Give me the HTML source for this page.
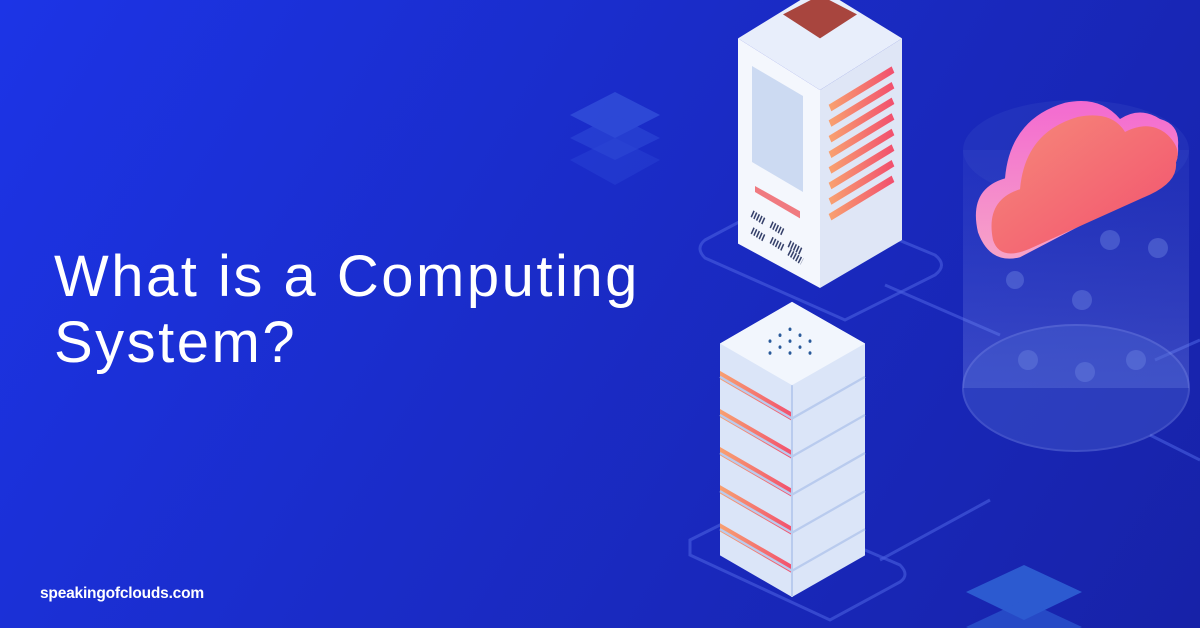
<!DOCTYPE html>
<html><head><style>
body{margin:0;width:1200px;height:628px;overflow:hidden;background:linear-gradient(120deg,#1c34e6 0%,#1a2cc8 45%,#1722a8 100%);font-family:"Liberation Sans",sans-serif;position:relative}
h1{position:absolute;left:54px;top:244px;margin:0;color:#fff;font-weight:400;font-size:58px;line-height:66px;letter-spacing:2.5px}
.u{position:absolute;left:40px;top:585px;color:#fff;font-weight:700;font-size:15.5px;letter-spacing:-0.2px}
svg{position:absolute;left:0;top:0}
</style></head><body>
<svg width="1200" height="628">
<defs>
<linearGradient id="cl" x1="0" y1="0" x2="1" y2="1"><stop offset="0" stop-color="#f68a7a"/><stop offset="1" stop-color="#f2506e"/></linearGradient>
<linearGradient id="cs" x1="0" y1="0" x2="0" y2="1"><stop offset="0" stop-color="#f36ad0"/><stop offset="1" stop-color="#f6a3c8"/></linearGradient>
<linearGradient id="st" x1="0" y1="0" x2="1" y2="0"><stop offset="0" stop-color="#f8a070"/><stop offset="1" stop-color="#f2506e"/></linearGradient>
<linearGradient id="cy" x1="0" y1="0" x2="0" y2="1"><stop offset="0" stop-color="#5a6fd8" stop-opacity="0.12"/><stop offset="1" stop-color="#8a9cf0" stop-opacity="0.3"/></linearGradient>
</defs>
<g fill="none" stroke="#4a5fe0" stroke-opacity="0.6" stroke-width="3">
<path d="M705 240 L790 195 L935 255 Q948 265 935 275 L845 320 L705 258 Q695 248 705 240Z"/>
<path d="M885 285 L1000 335 M880 560 L990 500 M1155 360 L1200 340 M1150 435 L1200 460"/>
<path d="M690 540 L760 505 L900 565 Q910 575 900 582 L830 620 L690 555 Z"/>
</g>
<g fill="#3a5be0" opacity="0.6"><path d="M615 92 L660 115 L615 138 L570 115Z"/><path d="M615 115 L660 138 L615 160 L570 138Z" opacity="0.6"/><path d="M615 138 L660 160 L615 185 L570 160Z" opacity="0.4"/></g>
<g fill="#2c5ad0"><path d="M1024 565 L1082 592 L1024 620 L966 592Z"/><path d="M1024 600 L1082 627 L1024 655 L966 627Z" opacity="0.7"/></g>
<rect x="963" y="150" width="226" height="238" fill="url(#cy)"/>
<ellipse cx="1076" cy="150" rx="113" ry="50" fill="#3a4fc8" opacity="0.25"/>
<ellipse cx="1076" cy="388" rx="113" ry="63" fill="#4a63d0" opacity="0.4" stroke="#7b8ee8" stroke-width="2"/>
<g fill="#6a80e0" opacity="0.45"><circle cx="1110" cy="240" r="10"/><circle cx="1158" cy="248" r="10"/><circle cx="1015" cy="280" r="9"/><circle cx="1082" cy="300" r="10"/><circle cx="1028" cy="360" r="10"/><circle cx="1136" cy="360" r="10"/><circle cx="1085" cy="372" r="10"/></g>
<g transform="matrix(1,0,0,1.08,0,11)">
<path d="M978 205 Q968 165 1005 155 Q1010 100 1065 85 Q1100 78 1120 100 Q1140 88 1160 100 Q1180 105 1178 125 Q1180 150 1150 165 L1020 228 Q990 235 978 205Z" fill="url(#cs)"/>
<path d="M993 212 Q985 175 1020 165 Q1025 112 1078 98 Q1112 92 1125 112 Q1150 100 1168 115 Q1182 128 1176 140 Q1178 158 1150 170 L1030 220 Q1000 232 993 212Z" fill="url(#cl)"/>
</g>
<g transform="matrix(1,0,0,1.2,0,0)">
<path d="M738 32 L820 -10 L902 32 L820 75Z" fill="#e8eefb"/>
<path d="M783 12 L820 -4 L857 12 L820 32Z" fill="#a8453e"/>
<path d="M738 32 L820 75 L820 240 L738 203Z" fill="#f4f7fd"/>
<path d="M820 75 L902 32 L902 200 L820 240Z" fill="#dfe6f6"/>
<path d="M752 55 L803 80 L803 160 L752 135Z" fill="#ccdaf2"/>
<path d="M755 155 L800 176 L800 182 L755 160Z" fill="#f07a80"/>
<g stroke="#35406a" stroke-width="6" stroke-dasharray="1.5 1.5"><path d="M752 178 L765 185 M771 187 L784 194 M752 192 L765 199 M771 200 L784 207 M789 203 L802 210 M789 210 L802 218"/></g>
<g stroke="url(#st)" stroke-width="6"><path d="M830 90 L893 58 M830 103 L893 71 M830 116 L893 84 M830 129 L893 97 M830 142 L893 110 M830 155 L893 123 M830 168 L893 136 M830 181 L893 149"/></g>
</g>
<g transform="matrix(1,0,0,1.19,0,2)">
<path d="M720 287 L792 252 L865 287 L865 465 L792 500 L720 465Z" fill="#dbe5f8"/>
<g fill="url(#st)">
<path d="M720 310 L792 345 L792 352 L720 317Z"/><path d="M720 342 L792 377 L792 384 L720 349Z"/><path d="M720 374 L792 409 L792 416 L720 381Z"/><path d="M720 406 L792 441 L792 448 L720 413Z"/><path d="M720 438 L792 473 L792 480 L720 445Z"/>
</g>
<g stroke="#b9cbee" stroke-width="2" fill="none"><path d="M792 322 L792 500 M720 315 L792 350 L865 315 M720 347 L792 382 L865 347 M720 379 L792 414 L865 379 M720 411 L792 446 L865 411 M720 443 L792 478 L865 443"/></g>
<path d="M720 287 L792 252 L865 287 L792 322Z" fill="#f2f6fd"/>
<g fill="#2a5a9a"><circle cx="770" cy="285" r="1.5"/><circle cx="780" cy="280" r="1.5"/><circle cx="790" cy="275" r="1.5"/><circle cx="800" cy="280" r="1.5"/><circle cx="810" cy="285" r="1.5"/><circle cx="780" cy="290" r="1.5"/><circle cx="790" cy="285" r="1.5"/><circle cx="800" cy="290" r="1.5"/><circle cx="790" cy="295" r="1.5"/><circle cx="770" cy="295" r="1.5"/><circle cx="810" cy="295" r="1.5"/></g>
</g>
</svg>
<h1>What is a Computing<br>System?</h1>
<div class="u">speakingofclouds.com</div>
</body></html>
